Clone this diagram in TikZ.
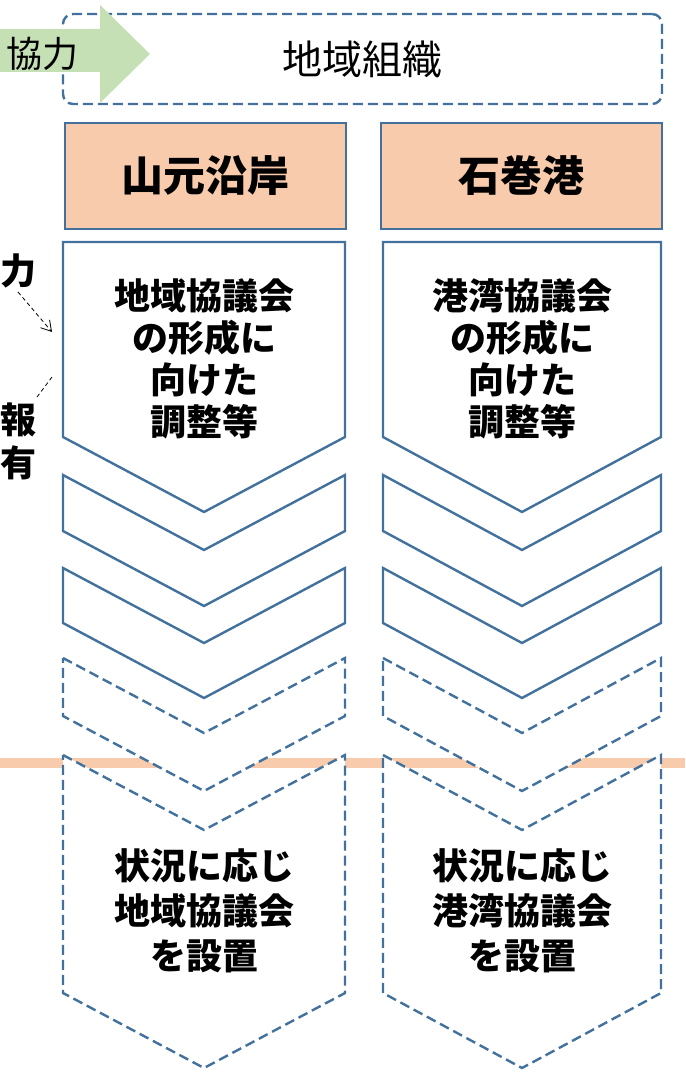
\documentclass[tikz,border=0pt]{standalone}
\usepackage{fontspec}
\setmainfont{Noto Sans CJK JP}
\definecolor{FrameBlue}{HTML}{41719C}
\definecolor{PeachFill}{HTML}{F8CBAD}
\definecolor{LeafGreen}{HTML}{C5E0B4}
\usetikzlibrary{arrows.meta,positioning}
% one chevron: style, left x, right x, top y, bottom y
\newcommand{\chevshape}[5]{%
  \draw[#1] (#2,#4) -- ({(#2+#3)/2},#4+75) -- (#3,#4) -- (#3,#5)
    -- ({(#2+#3)/2},#5+75) -- (#2,#5) -- cycle;}
\begin{document}
\begin{tikzpicture}[x=1pt,y=-1pt,
    chevline/.style={draw=FrameBlue,line width=2.4pt,fill=white},
    chevdash/.style={chevline,dash pattern=on 10pt off 5pt},
    areabox/.style={draw=FrameBlue,line width=2.6pt,fill=PeachFill,
                    minimum width=281pt,minimum height=106pt,
                    font=\fontsize{42}{48}\selectfont\bfseries},
    steptext/.style={align=center,inner sep=0pt,
                     font=\fontsize{36}{42}\selectfont\bfseries},
    sidetext/.style={align=center,inner sep=0pt,
                     font=\fontsize{36}{43}\selectfont\bfseries},
    hintline/.style={black,line width=0.8pt,dash pattern=on 4pt off 3pt}]
  \useasboundingbox (0,0) rectangle (685,1078);
  % boundary line
  \draw[PeachFill,line width=10pt] (0,763) -- (685,763);
  % top frame
  \node[draw=FrameBlue,line width=2.4pt,dash pattern=on 10pt off 5pt,
        rounded corners=10pt,minimum width=599pt,minimum height=90pt,
        font=\fontsize{40}{44}\selectfont] (soshiki) at (362.5,59) {地域組織};
  \fill[LeafGreen] (0,29) -- (100,29) -- (100,5) -- (150,54)
    -- (100,103) -- (100,72) -- (0,72) -- cycle;
  \node[inner sep=0pt,font=\fontsize{36}{42}\selectfont] (kyoryoku)
        at (42,54) {協力};
  % areas
  \node[areabox] (yamamoto) at (205.5,176) {山元沿岸};
  \node[areabox] (ishinomaki) at (521.5,176) {石巻港};
  % chevrons
  \foreach \xl/\xr in {63/345,383/661}{
    \draw[chevline] (\xl,242) -- (\xr,242) -- (\xr,437)
      -- ({(\xl+\xr)/2},512) -- (\xl,437) -- cycle;
    \chevshape{chevline}{\xl}{\xr}{475}{531}
    \chevshape{chevline}{\xl}{\xr}{568}{623}
    \chevshape{chevdash}{\xl}{\xr}{658}{716}
    \chevshape{chevdash}{\xl}{\xr}{755}{993}
  }
  \node[steptext] (chouseiL) at (204,359)
       {地域協議会\\の形成に\\向けた\\調整等};
  \node[steptext] (chouseiR) at (522,359)
       {港湾協議会\\の形成に\\向けた\\調整等};
  \node[steptext,font=\fontsize{36}{45}\selectfont\bfseries] (setchiL)
       at (204,911) {状況に応じ\\地域協議会\\を設置};
  \node[steptext,font=\fontsize{36}{45}\selectfont\bfseries] (setchiR)
       at (522,911) {状況に応じ\\港湾協議会\\を設置};
  % cut-off side labels
  \node[sidetext] (chikara) at (19,271) {力};
  \node[sidetext] (houyuu) at (19,441) {報\\有};
  \coordinate (arrA) at (18,292);
  \coordinate (arrB) at (52,332);
  \coordinate (lineA) at (52,377);
  \coordinate (lineB) at (37,397);
  \draw[hintline,-{Straight Barb[length=10pt,width=12pt]}] (arrA) -- (arrB);
  \draw[hintline] (lineA) -- (lineB);
\end{tikzpicture}
\end{document}
